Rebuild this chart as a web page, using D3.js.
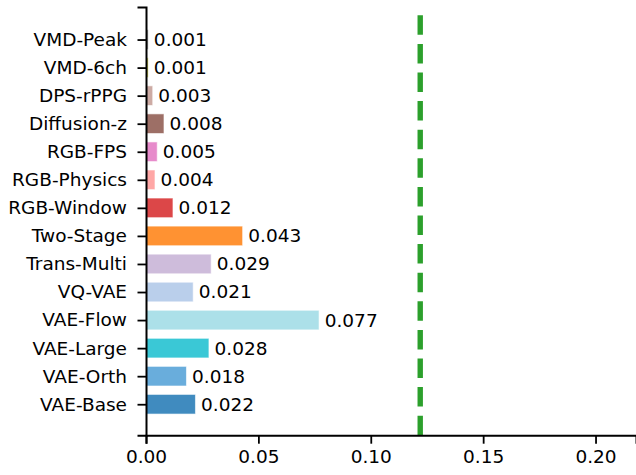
<!DOCTYPE html>
<html>
<head>
<meta charset="utf-8">
<script src="https://cdn.jsdelivr.net/npm/d3@7"></script>
<style>
  body { margin: 0; background: #fff; }
  svg { display: block; font-family: "DejaVu Sans", sans-serif; }
</style>
</head>
<body>
<div id="chart"></div>
<script>
// bottom to top, like matplotlib barh
const methods = ["VAE-Base", "VAE-Orth", "VAE-Large", "VAE-Flow", "VQ-VAE", "Trans-Multi",
  "Two-Stage", "RGB-Window", "RGB-Physics", "RGB-FPS", "Diffusion-z", "DPS-rPPG",
  "VMD-6ch", "VMD-Peak"];
const scores = [0.022, 0.018, 0.028, 0.077, 0.021, 0.029, 0.043, 0.012, 0.004, 0.005,
  0.008, 0.003, 0.001, 0.001];
const barColors = ["#1f77b4", "#4f9fd6", "#17becf", "#9edae5", "#aec7e8", "#c5b0d5",
  "#ff7f0e", "#d62728", "#ff9896", "#e377c2", "#8c564b", "#c49c94", "#bcbd22", "#7f7f7f"];
const xTicks = [0, 0.05, 0.10, 0.15, 0.20];
const threshold = 0.122;

const width = 636, height = 475;
const margin = {top: 7, right: 0, bottom: 40, left: 146};
const fontSize = 18.5;

const svg = d3.select("#chart").append("svg")
  .attr("width", width)
  .attr("height", height);

const x = d3.scaleLinear()
  .domain([0, 0.218])
  .range([margin.left, width - margin.right]);

const y = d3.scaleLinear()
  .domain([-1.104, 14.16])
  .range([height - margin.bottom + 0.2, margin.top]);

const unit = y(0) - y(1);
const barH = unit * 0.7;

// bars
svg.append("g")
  .selectAll("rect")
  .data(scores)
  .join("rect")
  .attr("x", x(0))
  .attr("y", (d, i) => y(i) - barH / 2)
  .attr("width", d => x(d) - x(0))
  .attr("height", barH)
  .attr("fill", (d, i) => barColors[i])
  .attr("fill-opacity", 0.85)
  .attr("stroke", "#fff")
  .attr("stroke-opacity", 0.6)
  .attr("stroke-width", 1);

// value labels
svg.append("g")
  .selectAll("text")
  .data(scores)
  .join("text")
  .attr("x", d => x(d + 0.0025))
  .attr("y", (d, i) => y(i))
  .attr("dy", "0.35em")
  .attr("font-size", fontSize)
  .attr("fill", "#000")
  .text(d => d.toFixed(3));

// threshold line
svg.append("line")
  .attr("x1", x(threshold))
  .attr("x2", x(threshold))
  .attr("y1", y.range()[0])
  .attr("y2", y.range()[1])
  .attr("stroke", "#2ca02c")
  .attr("stroke-width", 5.4)
  .attr("stroke-dasharray", "19.5,9.1");

// axes
const xAxis = svg.append("g")
  .attr("transform", "translate(0," + y.range()[0] + ")")
  .call(d3.axisBottom(x).tickValues(xTicks).tickFormat(d3.format(".2f"))
    .tickSizeOuter(0).tickSize(8.5).tickPadding(6.5));

const yAxis = svg.append("g")
  .attr("transform", "translate(" + x(0) + ",0)")
  .call(d3.axisLeft(y).tickValues(d3.range(methods.length))
    .tickFormat(i => methods[i]).tickSizeOuter(0).tickSize(8.5).tickPadding(10.5));

[xAxis, yAxis].forEach(function (g) {
  g.select(".domain").attr("stroke", "#000").attr("stroke-width", 2);
  g.selectAll(".tick line").attr("stroke", "#000").attr("stroke-width", 1.8);
  g.selectAll(".tick text").attr("font-size", fontSize).attr("fill", "#000")
    .attr("font-family", "DejaVu Sans, sans-serif");
});
</script>
</body>
</html>
